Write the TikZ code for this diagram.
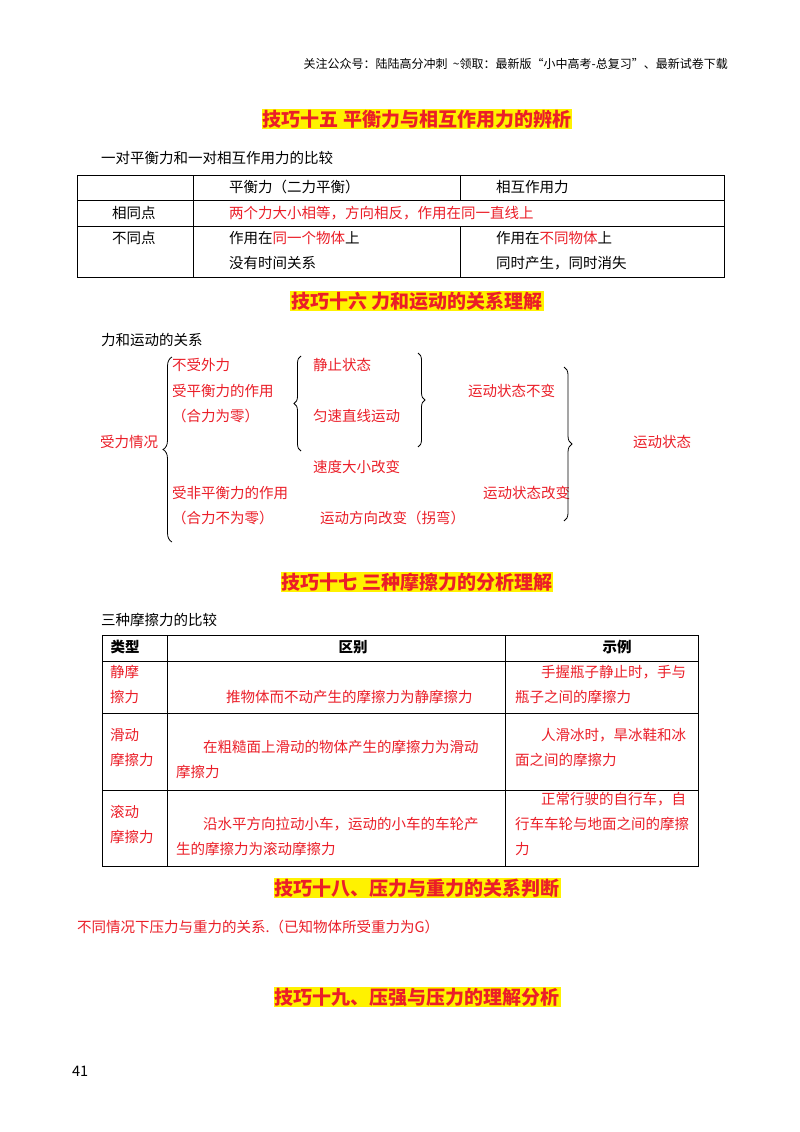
\documentclass[tikz,border=0pt]{standalone}
\usepackage{fontspec}
\setmainfont{Noto Sans CJK SC}
\usetikzlibrary{decorations.pathreplacing}
\definecolor{rd}{RGB}{235,30,40}
\begin{document}
\begin{tikzpicture}[x=1pt,y=-1pt,
 t/.style={anchor=west,inner sep=0pt,font=\fontsize{14.5}{16}\selectfont},
 r/.style={t,text=rd},
 hd/.style={inner sep=1pt,fill=yellow,text=rd,font=\fontsize{19}{21}\selectfont\bfseries},
 ln/.style={line width=0.7pt},
 br/.style={decorate,decoration={brace,amplitude=10pt},line width=0.8pt}]
\useasboundingbox (0,0) rectangle (800,1132);
\fill[white] (0,0) rectangle (800,1132);
\node[anchor=east,inner sep=0pt,font=\fontsize{12}{14}\selectfont] (top) at (728,64) {关注公众号：陆陆高分冲刺\ \ \textasciitilde 领取：最新版“小中高考-总复习”、最新试卷下载};
\node[hd] (h15) at (417,119) {技巧十五\ 平衡力与相互作用力的辨析};
\node[t] (s1) at (101,158) {一对平衡力和一对相互作用力的比较};
% table 1
\draw[ln] (77,175) rectangle (724,277);
\draw[ln] (77,200) -- (724,200) (77,226) -- (724,226);
\draw[ln] (193,175) -- (193,277) (460,175) -- (460,200) (460,226) -- (460,277);
\node[t] (a1) at (229,187) {平衡力（二力平衡）};
\node[t] (a2) at (496,187) {相互作用力};
\node[t] (a3) at (112,213) {相同点};
\node[r] (a4) at (229,213) {两个力大小相等，方向相反，作用在同一直线上};
\node[t] (a5) at (112,238) {不同点};
\node[t] (a6) at (229,238) {作用在\textcolor{rd}{同一个物体}上};
\node[t] (a7) at (229,263) {没有时间关系};
\node[t] (a8) at (496,238) {作用在\textcolor{rd}{不同物体}上};
\node[t] (a9) at (496,263) {同时产生，同时消失};
\node[hd] (h16) at (417,301) {技巧十六\ 力和运动的关系理解};
\node[t] (s2) at (101,340) {力和运动的关系};
\node[r] (b1) at (172,365) {不受外力};
\node[r] (b2) at (172,391) {受平衡力的作用};
\node[r] (b3) at (172,416) {（合力为零）};
\node[r] (b4) at (100,442) {受力情况};
\node[r] (b5) at (313,365) {静止状态};
\node[r] (b6) at (313,416) {匀速直线运动};
\node[r] (b7) at (468,391) {运动状态不变};
\node[r] (b8) at (633,442) {运动状态};
\node[r] (b9) at (313,467) {速度大小改变};
\node[r] (b10) at (172,493) {受非平衡力的作用};
\node[r] (b11) at (483,493) {运动状态改变};
\node[r] (b12) at (172,518) {（合力不为零）};
\node[r] (b13) at (320,518) {运动方向改变（拐弯）};
\draw[br,decoration={brace,amplitude=9pt}] (172,542) -- (172,357);
\draw[br,decoration={brace,amplitude=7pt}] (301,451) -- (301,356);
\draw[br,decoration={brace,amplitude=7pt}] (418,353) -- (418,447);
\draw[br,decoration={brace,amplitude=8pt}] (564,367) -- (564,521);
\node[hd] (h17) at (417,582) {技巧十七\ 三种摩擦力的分析理解};
\node[t] (s3) at (101,620) {三种摩擦力的比较};
% table 2
\draw[ln] (102,635) rectangle (698,866);
\draw[ln] (102,661) -- (698,661) (102,713) -- (698,713) (102,790) -- (698,790);
\draw[ln] (167,635) -- (167,866) (505,635) -- (505,866);
\node[font=\fontsize{14.5}{16}\selectfont\bfseries,inner sep=0pt] (c1) at (125,647) {类型};
\node[font=\fontsize{14.5}{16}\selectfont\bfseries,inner sep=0pt] (c2) at (353,647) {区别};
\node[font=\fontsize{14.5}{16}\selectfont\bfseries,inner sep=0pt] (c3) at (617,647) {示例};
\node[r] (d1) at (110,672) {静摩};
\node[r] (d2) at (110,697) {擦力};
\node[r] (d3) at (226,697) {推物体而不动产生的摩擦力为静摩擦力};
\node[r] (d4) at (541,672) {手握瓶子静止时，手与};
\node[r] (d5) at (515,697) {瓶子之间的摩擦力};
\node[r] (e1) at (110,735) {滑动};
\node[r] (e2) at (110,760) {摩擦力};
\node[r] (e3) at (203,747) {在粗糙面上滑动的物体产生的摩擦力为滑动};
\node[r] (e4) at (176,772) {摩擦力};
\node[r] (e5) at (541,735) {人滑冰时，旱冰鞋和冰};
\node[r] (e6) at (515,760) {面之间的摩擦力};
\node[r] (f1) at (110,812) {滚动};
\node[r] (f2) at (110,837) {摩擦力};
\node[r] (f3) at (203,824) {沿水平方向拉动小车，运动的小车的车轮产};
\node[r] (f4) at (176,849) {生的摩擦力为滚动摩擦力};
\node[r] (f5) at (541,799) {正常行驶的自行车，自};
\node[r] (f6) at (515,824) {行车车轮与地面之间的摩擦};
\node[r] (f7) at (515,849) {力};
\node[hd] (h18) at (417,888) {技巧十八、压力与重力的关系判断};
\node[r] (g1) at (77,927) {不同情况下压力与重力的关系.（已知物体所受重力为G）};
\node[hd] (h19) at (417,997) {技巧十九、压强与压力的理解分析};
\node[t] (pg) at (72,1071) {41};
\end{tikzpicture}
\end{document}
